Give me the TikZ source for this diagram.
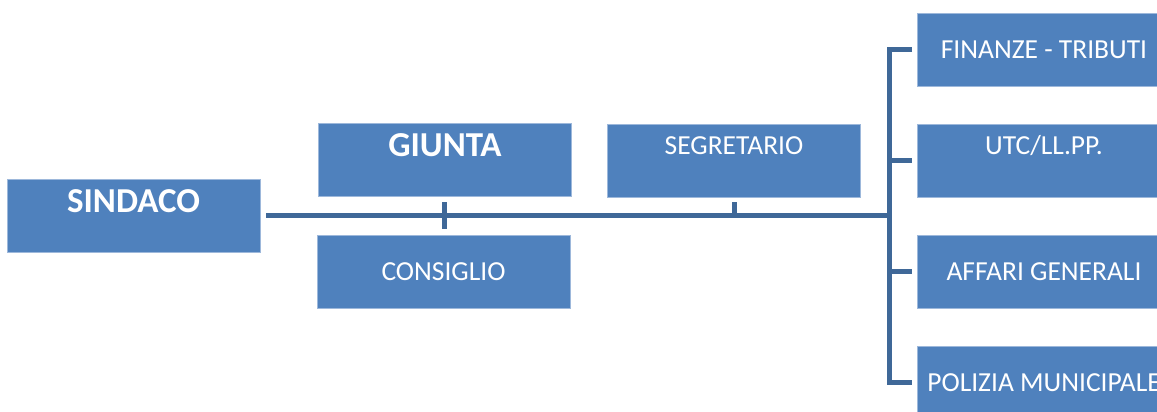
\documentclass[tikz,border=0pt]{standalone}
\usepackage{fontspec}
\setmainfont{Carlito}
\definecolor{boxblue}{HTML}{4F81BD}
\definecolor{linkblue}{HTML}{3F6898}
\definecolor{edgeblue}{HTML}{9DB8DB}
\tikzset{
  box/.style={rectangle, fill=boxblue, draw=edgeblue, line width=0.8pt,
    minimum width=253pt, minimum height=73pt, inner sep=0pt,
    text=white, font=\fontsize{27.5}{30}\selectfont, text height=17.4pt},
  mid/.style={text depth=0pt},
  upper/.style={text depth=29pt},
  big/.style={font=\fontsize{35}{38}\bfseries\selectfont, text height=22pt},
  link/.style={draw=linkblue, line width=5pt, line join=miter}
}
\begin{document}
\begin{tikzpicture}[x=1pt,y=-1pt]
\useasboundingbox (0,0) rectangle (1157,412);
\clip (0,0) rectangle (1157,412);
\node[box,big,upper] (sindaco) at (133.5,215.5) {SINDACO};
\node[box,big,upper] (giunta) at (445,160) {GIUNTA};
\node[box,mid] (consiglio) at (443.5,271.5) {CONSIGLIO};
\node[box,upper] (segretario) at (734,160.5) {SEGRETARIO};
\node[box,mid] (finanze) at (1044,49.5) {FINANZE - TRIBUTI};
\node[box,upper] (utc) at (1044,160.5) {UTC/LL.PP.};
\node[box,mid] (affari) at (1044,271.5) {AFFARI GENERALI};
\node[box,mid] (polizia) at (1044,382.5) {POLIZIA MUNICIPALE};
\coordinate (bus) at (889,215.5);
\coordinate (ttop) at (889,49.5);
\coordinate (tbot) at (889,382.5);
\coordinate (gtick) at (444,202);
\coordinate (ctick) at (444,229);
\coordinate (stick) at (734,202);
% main bus
\draw[link, shorten <=6pt] (sindaco.east) -- (bus);
% ticks
\draw[link] (gtick) -- (ctick);
\draw[link] (stick) -- (stick |- bus);
% trunk
\draw[link] ([xshift=-5pt]finanze.west) -- (ttop) -- (tbot) -- ([xshift=-5pt]polizia.west);
\draw[link] (utc.west -| ttop) -- ([xshift=-5pt]utc.west);
\draw[link] (affari.west -| ttop) -- ([xshift=-5pt]affari.west);
\end{tikzpicture}
\end{document}
